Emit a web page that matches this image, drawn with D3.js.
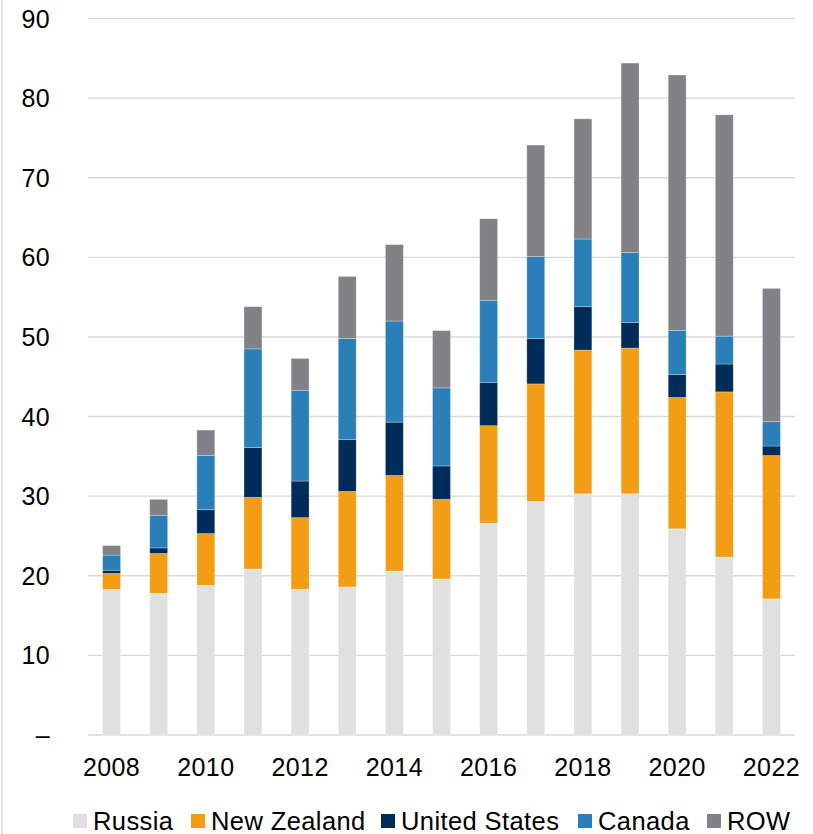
<!DOCTYPE html>
<html>
<head>
<meta charset="utf-8">
<script src="https://cdn.jsdelivr.net/npm/d3@7"></script>
<style>
  body { margin: 0; background: #fff; }
  svg text { font-family: Arial, "Liberation Sans", sans-serif; fill: #000; letter-spacing: 0.4px; }
</style>
</head>
<body>
<div id="chart"></div>
<script>
// data
var years = [2008, 2009, 2010, 2011, 2012, 2013, 2014, 2015, 2016, 2017, 2018, 2019, 2020, 2021, 2022];
var russia      = [18.3, 17.8, 18.8, 20.85, 18.3, 18.6, 20.6, 19.6, 26.6, 29.35, 30.3, 30.3, 25.9, 22.35, 17.1];
var newZealand  = [2.0, 5.0, 6.5, 9.0, 9.0, 12.0, 12.0, 10.0, 12.25, 14.75, 18.05, 18.3, 16.5, 20.75, 18.0];
var unitedStates = [0.4, 0.7, 3.0, 6.25, 4.6, 6.5, 6.7, 4.2, 5.45, 5.7, 5.45, 3.2, 2.9, 3.5, 1.2];
var canada      = [1.9, 4.1, 6.8, 12.4, 11.4, 12.7, 12.7, 9.8, 10.3, 10.3, 8.5, 8.8, 5.5, 3.5, 3.05];
var row         = [1.2, 2.0, 3.2, 5.3, 4.0, 7.8, 9.6, 7.2, 10.25, 14.0, 15.1, 23.8, 32.1, 27.8, 16.75];
var seriesNames = ["Russia", "New Zealand", "United States", "Canada", "ROW"];
var yTicks = [0, 10, 20, 30, 40, 50, 60, 70, 80, 90];
var xTickYears = [2008, 2010, 2012, 2014, 2016, 2018, 2020, 2022];

var colors = ["#e0e0e0", "#f29d13", "#002c59", "#2a7fb8", "#818285"];

var width = 813, height = 834;
var margin = {top: 18.5, right: 18, bottom: 99, left: 88};

var svg = d3.select("#chart")
  .append("svg")
    .attr("width", width)
    .attr("height", height);

// build rows for the stack
var table = years.map(function(yr, i) {
  return {year: yr, "Russia": russia[i], "New Zealand": newZealand[i],
          "United States": unitedStates[i], "Canada": canada[i], "ROW": row[i]};
});
var stacked = d3.stack().keys(seriesNames)(table);

var x = d3.scaleBand()
  .domain(years)
  .range([margin.left, width - margin.right])
  .paddingInner(0.62)
  .paddingOuter(0.31);

var y = d3.scaleLinear()
  .domain([0, 90])
  .range([height - margin.bottom, margin.top]);

// left border line
svg.append("line")
  .attr("x1", 2).attr("x2", 2)
  .attr("y1", 0).attr("y2", height)
  .attr("stroke", "#d9d9d9")
  .attr("stroke-width", 1.5);

// gridlines
svg.append("g")
  .selectAll("line")
  .data(yTicks)
  .enter()
  .append("line")
    .attr("x1", margin.left)
    .attr("x2", width - margin.right)
    .attr("y1", function(d) { return y(d); })
    .attr("y2", function(d) { return y(d); })
    .attr("stroke", "#d9d9d9")
    .attr("stroke-width", 1.4);

// y labels
svg.append("g")
  .selectAll("text")
  .data(yTicks)
  .enter()
  .append("text")
    .attr("x", 50)
    .attr("y", function(d) { return y(d); })
    .attr("dy", "0.36em")
    .attr("text-anchor", "end")
    .style("font-size", "25px")
    .text(function(d) { return d === 0 ? "\u2013" : d; });

// bars
svg.append("g")
  .selectAll("g")
  .data(stacked)
  .enter()
  .append("g")
    .attr("fill", function(d, i) { return colors[i]; })
  .selectAll("rect")
  .data(function(d) { return d; })
  .enter()
  .append("rect")
    .attr("x", function(d) { return x(d.data.year); })
    .attr("y", function(d) { return y(d[1]); })
    .attr("height", function(d) { return y(d[0]) - y(d[1]); })
    .attr("width", x.bandwidth())
    .attr("stroke", "#ffffff")
    .attr("stroke-opacity", 0.35)
    .attr("stroke-width", 0.8);

// x labels
svg.append("g")
  .selectAll("text")
  .data(xTickYears)
  .enter()
  .append("text")
    .attr("x", function(d) { return x(d) + x.bandwidth() / 2; })
    .attr("y", 776)
    .attr("text-anchor", "middle")
    .style("font-size", "25px")
    .text(function(d) { return d; });

// legend
var legendX = [73, 191, 381, 578, 707];
var legend = svg.append("g")
  .selectAll("g")
  .data(seriesNames)
  .enter()
  .append("g")
    .attr("transform", function(d, i) { return "translate(" + legendX[i] + ",0)"; });

legend.append("rect")
  .attr("x", 0)
  .attr("y", 814)
  .attr("width", 14)
  .attr("height", 14)
  .attr("fill", function(d, i) { return colors[i]; });

legend.append("text")
  .attr("x", 20)
  .attr("y", 830)
  .style("font-size", "25.5px")
  .text(function(d) { return d; });
</script>
</body>
</html>
